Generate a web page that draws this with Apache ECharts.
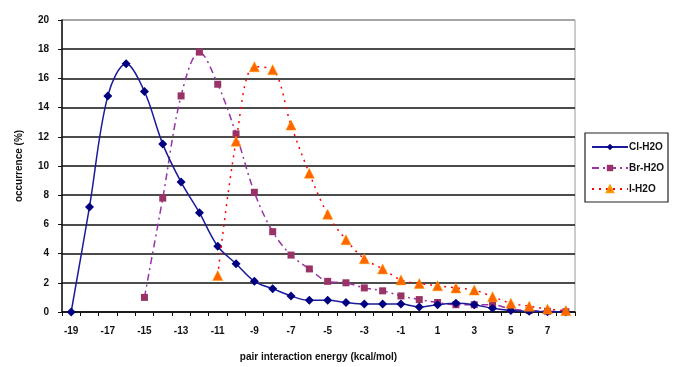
<!DOCTYPE html>
<html>
<head>
<meta charset="utf-8">
<script src="https://cdn.jsdelivr.net/npm/echarts@6/dist/echarts.min.js"></script>
<style>html,body{margin:0;padding:0;background:#fff;}#c{width:680px;height:367px;}</style>
</head>
<body>
<div id="c"></div>
<script>
var categories = [-19,-18,-17,-16,-15,-14,-13,-12,-11,-10,-9,-8,-7,-6,-5,-4,-3,-2,-1,0,1,2,3,4,5,6,7,8].map(String);
var clH2O = [0,7.2,14.8,17.0,15.1,11.5,8.9,6.8,4.5,3.3,2.1,1.6,1.1,0.8,0.8,0.65,0.55,0.55,0.55,0.35,0.5,0.6,0.5,0.25,0.1,0.05,0.02,0];
var brH2O = [null,null,null,null,1.0,7.8,14.8,17.8,15.6,12.2,8.2,5.5,3.9,2.95,2.1,2.0,1.65,1.45,1.1,0.85,0.65,0.5,0.5,0.5,0.2,0.1,0.05,0.02];
var iH2O = [null,null,null,null,null,null,null,null,2.5,11.7,16.8,16.6,12.8,9.5,6.7,4.95,3.65,2.95,2.2,1.95,1.8,1.65,1.5,1.05,0.6,0.4,0.2,0.1];
var seriesNames = ['Cl-H2O','Br-H2O','I-H2O'];
var yMin = 0, yMax = 20, yStep = 2;

var font = 'Liberation Sans, Arial, sans-serif';
var splitColors = [];
for (var v = yMin; v <= yMax; v += yStep) splitColors.push(v === yMax ? '#9a9a9a' : '#111');

var chart = echarts.init(document.getElementById('c'));
chart.setOption({
  animation: false,
  backgroundColor: '#fff',
  textStyle: {fontFamily: font},
  grid: {left: 62, top: 20, right: 105, bottom: 53, show: true, borderColor: '#9a9a9a', borderWidth: 1, backgroundColor: '#fff'},
  legend: {
    orient: 'vertical', left: 585, top: 133, width: 90,
    padding: [9, 4, 8, 6], itemGap: 11, itemWidth: 36, itemHeight: 8,
    borderColor: '#222', borderWidth: 1.2,
    textStyle: {fontSize: 10, fontWeight: 'bold', color: '#111', fontFamily: font, padding: [0,0,0,-4]},
    data: seriesNames
  },
  xAxis: {
    type: 'category', data: categories, boundaryGap: true,
    name: 'pair interaction energy (kcal/mol)', nameLocation: 'middle', nameGap: 40,
    nameTextStyle: {fontSize: 10, fontWeight: 'bold', color: '#111'},
    axisLine: {lineStyle: {color: '#111', width: 1.5}},
    axisTick: {show: true, interval: 0, length: 4, lineStyle: {color: '#111'}},
    axisLabel: {interval: 1, fontSize: 10, fontWeight: 'bold', color: '#111', margin: 14},
    splitLine: {show: false}
  },
  yAxis: {
    type: 'value', min: yMin, max: yMax, interval: yStep,
    name: 'occurrence (%)', nameLocation: 'middle', nameGap: 38, nameRotate: 90,
    nameTextStyle: {fontSize: 10, fontWeight: 'bold', color: '#111'},
    axisLine: {show: true, lineStyle: {color: '#111', width: 1.5}},
    axisTick: {show: true, length: 4, lineStyle: {color: '#111'}},
    axisLabel: {fontSize: 10, fontWeight: 'bold', color: '#111', margin: 13},
    splitLine: {show: true, lineStyle: {color: splitColors, width: 1.6}}
  },
  series: [
    {name: seriesNames[0], type: 'line', data: clH2O, symbol: 'diamond', symbolSize: 9, smooth: 0.35,
     itemStyle: {color: '#000080'}, lineStyle: {color: '#1a1a9a', width: 1.5}, z: 3},
    {name: seriesNames[1], type: 'line', data: brH2O, symbol: 'rect', symbolSize: 7, smooth: 0.35,
     itemStyle: {color: '#993366'}, lineStyle: {color: '#9933aa', width: 1.5, type: [7, 4, 2, 4]}, z: 2},
    {name: seriesNames[2], type: 'line', data: iH2O, symbol: 'triangle', symbolSize: 10, smooth: 0.35,
     itemStyle: {color: '#ff6600', borderColor: '#ff9900', borderWidth: 0.5}, lineStyle: {color: '#ff0000', width: 1.5, type: [2, 5]}, z: 4}
  ]
});
</script>
</body>
</html>
